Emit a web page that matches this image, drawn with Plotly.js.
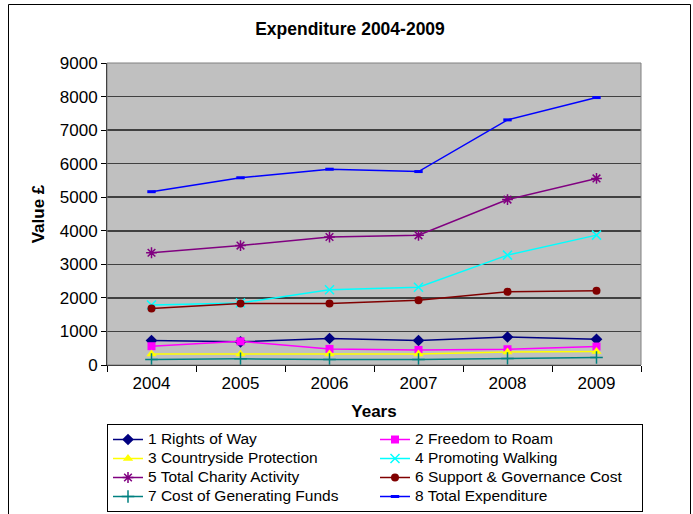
<!DOCTYPE html>
<html><head><meta charset="utf-8">
<script src="https://cdn.plot.ly/plotly-3.0.1.min.js"></script>
<style>html,body{margin:0;padding:0;background:#fff;}#chart{width:693px;height:514px;}</style>
</head><body><div id="chart"></div>
<script>
const years = ['2004','2005','2006','2007','2008','2009'];
const rightsOfWay = [730, 690, 790, 730, 835, 765];
const freedomToRoam = [560, 705, 480, 450, 470, 550];
const countrysideProtection = [330, 330, 330, 330, 385, 405];
const promotingWalking = [1790, 1850, 2245, 2315, 3275, 3870];
const totalCharityActivity = [3345, 3560, 3815, 3865, 4930, 5560];
const supportGovernance = [1685, 1830, 1830, 1930, 2180, 2215];
const costGeneratingFunds = [165, 185, 165, 165, 195, 225];
const totalExpenditure = [5165, 5580, 5835, 5765, 7305, 7970];
const seriesNames = ['1 Rights of Way','2 Freedom to Roam','3 Countryside Protection','4 Promoting Walking','5 Total Charity Activity','6 Support & Governance Cost','7 Cost of Generating Funds','8 Total Expenditure'];

const styles = [
  {c:'#000080', m:{symbol:'diamond', size:9}},
  {c:'#FF00FF', m:{symbol:'square', size:8}},
  {c:'#FFFF00', m:{symbol:'triangle-up', size:9}},
  {c:'#00FFFF', m:{symbol:'x-thin-open', size:9, line:{width:1.5}}},
  {c:'#800080', m:{symbol:'asterisk-open', size:9, line:{width:1.5}}},
  {c:'#800000', m:{symbol:'circle', size:8}},
  {c:'#008080', m:{symbol:'cross-thin-open', size:9, line:{width:1.5}}},
  {c:'#0000FF', m:{symbol:'line-ew-open', size:6, line:{width:3}}}
];
const data = [rightsOfWay, freedomToRoam, countrysideProtection, promotingWalking, totalCharityActivity, supportGovernance, costGeneratingFunds, totalExpenditure];
const traces = data.map((d,i)=>{
  const mk = Object.assign({color: styles[i].c}, styles[i].m);
  if (mk.line) mk.line = Object.assign({color: styles[i].c}, mk.line);
  return {x: years, y: d, name: '<span style="font-size:15.5px">' + seriesNames[i] + '</span>',
    type:'scatter', mode:'lines+markers',
    line:{color: styles[i].c, width:1.5}, marker: mk};
});

const font = 'Arial, "Liberation Sans", sans-serif';
const layout = {
  width:693, height:514,
  margin:{l:107, r:52, t:63, b:149},
  paper_bgcolor:'#fff', plot_bgcolor:'#C0C0C0',
  font:{family:font, color:'#000', size:17},
  title:{text:'<b>Expenditure 2004-2009</b>', x:350/693, xanchor:'center', y:1-29/514, yanchor:'middle', font:{size:17.5, family:font}},
  showlegend:true,
  legend:{orientation:'h', xref:'container', yref:'container', x:107/693, xanchor:'left', y:1-424/514, yanchor:'top',
    entrywidth:222, entrywidthmode:'pixels', bordercolor:'#000', borderwidth:1,
    font:{size:11.4, family:font}, traceorder:'normal', itemwidth:30},
  xaxis:{type:'category', range:[-0.5, 5.5], title:{text:'<b>Years</b>', font:{size:17}, standoff:12},
    tickson:'boundaries', ticks:'outside', ticklen:6, tickcolor:'#000', ticklabelstandoff:3,
    showline:true, linecolor:'#000', linewidth:1, showgrid:false, zeroline:false,
    tickfont:{size:17}},
  yaxis:{range:[0,9000], dtick:1000, title:{text:'<b>Value £</b>', font:{size:17}, standoff:10},
    ticks:'outside', ticklen:5, tickcolor:'#000', showline:true, linecolor:'#000', linewidth:1,
    showgrid:true, gridcolor:'#404040', gridwidth:1.5, zeroline:false, tickfont:{size:17}},
  shapes:[
    {type:'rect', xref:'paper', yref:'paper', x0:0, x1:1, y0:0, y1:1, line:{color:'#808080', width:1}, layer:'above'},
    {type:'rect', xref:'paper', yref:'paper', x0:(8.5-107)/534, x1:(690.5-107)/534, y0:(365-4.5)/302, y1:(365-530)/302, line:{color:'#000', width:1}, fillcolor:'rgba(0,0,0,0)'}
  ]
};
Plotly.newPlot('chart', traces, layout, {displayModeBar:false, staticPlot:true});
</script></body></html>
